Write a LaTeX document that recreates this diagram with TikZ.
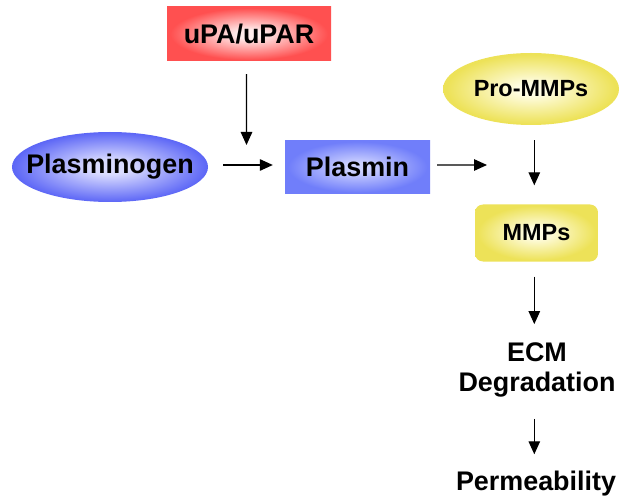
\documentclass[tikz,border=0pt]{standalone}
\usepackage{fontspec}
\setmainfont{Liberation Sans}
\usetikzlibrary{shapes.geometric,arrows.meta}
\definecolor{redin}{RGB}{255,236,236}
\definecolor{redout}{RGB}{255,80,80}
\definecolor{bluein}{RGB}{218,220,255}
\definecolor{blueout}{RGB}{92,102,246}
\definecolor{bluein2}{RGB}{205,210,255}
\definecolor{blueout2}{RGB}{112,126,250}
\definecolor{yelin}{RGB}{255,253,228}
\definecolor{yelout}{RGB}{237,226,88}
\pgfdeclareradialshading{glowred}{\pgfpoint{0bp}{0bp}}{color(0bp)=(redin); color(4bp)=(redin); color(24bp)=(redout); color(50bp)=(redout)}
\pgfdeclareradialshading{glowblue}{\pgfpoint{0bp}{0bp}}{color(0bp)=(bluein); color(5bp)=(bluein); color(25bp)=(blueout); color(50bp)=(blueout)}
\pgfdeclareradialshading{glowblueb}{\pgfpoint{0bp}{0bp}}{color(0bp)=(bluein2); color(4bp)=(bluein2); color(24bp)=(blueout2); color(50bp)=(blueout2)}
\pgfdeclareradialshading{glowyel}{\pgfpoint{0bp}{0bp}}{color(0bp)=(yelin); color(4bp)=(yelin); color(24bp)=(yelout); color(50bp)=(yelout)}
\tikzset{
  lbl/.style={font=\fontsize{27}{31}\selectfont\bfseries, inner sep=0pt, align=center},
  lbls/.style={font=\fontsize{23.5}{27}\selectfont\bfseries, inner sep=0pt},
  arr/.style={line width=1.2bp, -{Triangle[length=13bp,width=11.5bp]}},
  oval/.style={ellipse, inner sep=0pt},
}
\begin{document}
\begin{tikzpicture}[x=1bp,y=-1bp]
\useasboundingbox[fill=white] (0,0) rectangle (624,503);
% shapes
\node[lbl, shading=glowred, minimum width=164bp, minimum height=54bp] (upa) at (249,34) {uPA/uPAR};
\node[oval, shading=glowblue, minimum width=196bp, minimum height=70bp] (plg) at (110,167) {};
\node[lbl] (plgt) at (plg) {Plasminogen};
\node[lbl, shading=glowblueb, minimum width=145bp, minimum height=53bp] (pls) at (357.5,167) {Plasmin};
\node[oval, shading=glowyel, minimum width=176bp, minimum height=72bp] (pro) at (531,89) {};
\node[lbls] (prot) at (pro) {Pro-MMPs};
\node[lbls, rounded corners=8bp, shading=glowyel, minimum width=123bp, minimum height=57bp] (mmp) at (536.5,233) {MMPs};
\node[lbl] (ecm) at (537,370) {ECM\\Degradation};
\node[lbl] (perm) at (536,484) {Permeability};
% free ends
\coordinate (a1e) at (246.5,145);
\coordinate (a3e) at (487,165);
\coordinate (ax) at (534.3,0);
% connectors
\draw[arr, shorten <=13bp] ([xshift=-2.5bp]upa.south) -- (a1e);
\draw[arr, shorten <=15bp, shorten >=12bp] ([yshift=2bp]plg.east) -- ([yshift=2bp]pls.west);
\draw[arr, shorten <=7bp] ([yshift=2bp]pls.east) -- (a3e);
\draw[arr, shorten <=15bp, shorten >=19bp] (pro.south -| ax) -- (mmp.north -| ax);
\draw[arr, shorten <=15bp, shorten >=18bp] (mmp.south -| ax) -- (ecm.north -| ax);
\draw[arr, shorten <=21bp, shorten >=17bp] (ecm.south -| ax) -- (perm.north -| ax);
\end{tikzpicture}
\end{document}
